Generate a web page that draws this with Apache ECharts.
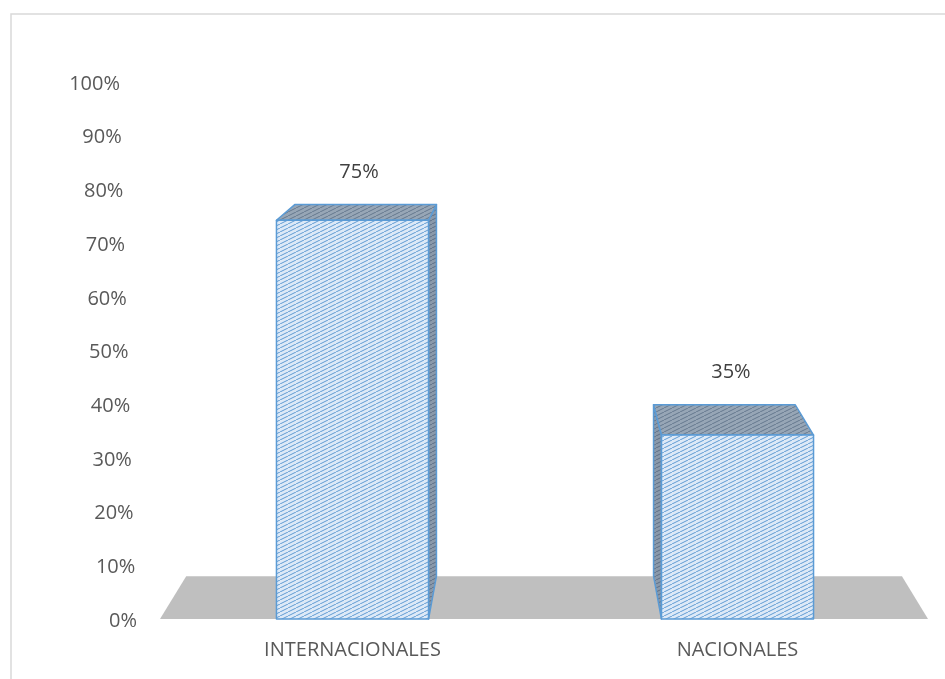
<!DOCTYPE html>
<html>
<head>
<meta charset="utf-8">
<script src="https://cdn.jsdelivr.net/npm/echarts@6/dist/echarts.min.js"></script>
<style>
html,body{margin:0;padding:0;background:#fff;}
#main{width:945px;height:679px;}
</style>
</head>
<body>
<div id="main"></div>
<script>
const categories = ['INTERNACIONALES', 'NACIONALES'];
const values = [0.75, 0.35];
const yMin = 0, yMax = 1, yStep = 0.1;

function hatch(bg, line) {
  const c = document.createElement('canvas');
  c.width = 8; c.height = 4;
  const g = c.getContext('2d');
  g.fillStyle = bg; g.fillRect(0, 0, 8, 4);
  g.strokeStyle = line; g.lineWidth = 1;
  g.beginPath();
  for (let o = -8; o <= 8; o += 8) {
    g.moveTo(o, 4); g.lineTo(o + 8, 0);
  }
  g.stroke();
  return { image: c, repeat: 'repeat' };
}
const frontFill = hatch('#dde9f7', '#5f9bd3');
const topFill = hatch('#97a6b6', '#66788e');
const sideFill = hatch('#8a99aa', '#5d6f86');
const edge = '#5b9bd5';
const K = 0.068;

const chart = echarts.init(document.getElementById('main'));
const font = '"Open Sans", sans-serif';

function back(p, vp) { return [p[0] + K * (vp[0] - p[0]), p[1] + K * (vp[1] - p[1])]; }

const rich = {};
for (let t = 0; t <= 10; t++) {
  rich['p' + t] = { color: '#595959', fontFamily: font, fontSize: 20, padding: [0, t * 1.7, 0, 0] };
}

chart.setOption({
  backgroundColor: '#fff',
  animation: false,
  graphic: [{
    type: 'rect', shape: { x: 11, y: 14, width: 2000, height: 2000 },
    style: { fill: 'none', stroke: '#d9d9d9', lineWidth: 1.5 }, silent: true
  }],
  grid: { left: 160, right: 15, top: 84, bottom: 58 },
  xAxis: {
    type: 'category', data: categories,
    axisLine: { show: false }, axisTick: { show: false },
    axisLabel: { color: '#595959', fontFamily: font, fontSize: 20, margin: 19 }
  },
  yAxis: {
    type: 'value', min: yMin, max: yMax, interval: yStep,
    axisLine: { show: false }, axisTick: { show: false }, splitLine: { show: false },
    axisLabel: { color: '#595959', fontFamily: font, fontSize: 20, margin: 23, rich: rich,
      formatter: v => '{p' + Math.round(v * 10) + '|' + Math.round(v * 100) + '%}' }
  },
  series: [{
    type: 'custom', silent: true, data: [0], z: 1,
    renderItem: function (params, api) {
      const cs = params.coordSys;
      const vp = [cs.x + cs.width / 2, cs.y - 94];
      const yb = api.coord([0, 0])[1] - 2;
      const bl = [cs.x, yb], br = [cs.x + cs.width - 2, yb];
      return { type: 'polygon', shape: { points: [bl, br, back(br, vp), back(bl, vp)] },
        style: { fill: '#bfbfbf' } };
    }
  }, {
    type: 'custom', silent: true, z: 2,
    data: values.map((v, i) => [i, v]),
    renderItem: function (params, api) {
      const cs = params.coordSys;
      const vp = [cs.x + cs.width / 2, cs.y - 94];
      const i = api.value(0), v = api.value(1);
      const top = api.coord([i, v]);
      const base = api.coord([i, 0]);
      const bw = api.size([1, 0])[0] * 0.395;
      const x0 = top[0] - bw / 2, x1 = top[0] + bw / 2;
      const yt = top[1] + 2, yb = base[1] - 2;
      const children = [];
      const st = (f) => ({ fill: f, stroke: edge, lineWidth: 1.5, lineJoin: 'round' });
      if (x1 < vp[0]) {
        children.push({ type: 'polygon', shape: { points: [[x1, yt], [x1, yb], back([x1, yb], vp), back([x1, yt], vp)] }, style: st(sideFill) });
      }
      if (x0 > vp[0]) {
        children.push({ type: 'polygon', shape: { points: [[x0, yt], [x0, yb], back([x0, yb], vp), back([x0, yt], vp)] }, style: st(sideFill) });
      }
      const bt0 = back([x0, yt], vp), bt1 = back([x1, yt], vp);
      children.push({ type: 'polygon', shape: { points: [[x0, yt], [x1, yt], bt1, bt0] }, style: st(topFill) });
      children.push({ type: 'rect', shape: { x: x0, y: yt, width: bw, height: yb - yt }, style: st(frontFill) });
      const lx = top[0] + ((bt0[0] + bt1[0]) / 2 - top[0]) * 0.5;
      children.push({ type: 'text', style: { text: Math.round(v * 100) + '%', x: lx, y: bt0[1] - 32,
        align: 'center', verticalAlign: 'middle', fill: '#404040', font: '20px ' + font } });
      return { type: 'group', children: children };
    }
  }]
});
</script>
</body>
</html>
